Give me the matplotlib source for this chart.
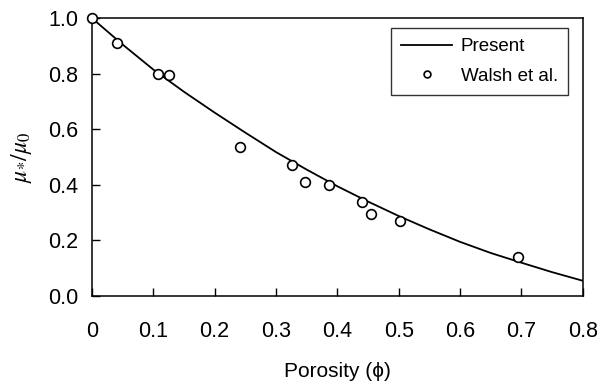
import matplotlib
matplotlib.use("Agg")
import matplotlib.pyplot as plt

plt.rcParams['font.family'] = ['Liberation Sans', 'DejaVu Sans']
plt.rcParams['mathtext.fontset'] = 'stix'

# model curve ("Present")
phi_model = [0.0, 0.05, 0.1, 0.15, 0.2, 0.25, 0.3, 0.35, 0.4, 0.45,
             0.5, 0.55, 0.6, 0.65, 0.7, 0.75, 0.8]
mu_model = [1.0, 0.905, 0.815, 0.735, 0.66, 0.588, 0.518, 0.455, 0.395, 0.34,
            0.288, 0.24, 0.195, 0.155, 0.12, 0.086, 0.055]

# measured data (Walsh et al.)
phi_walsh = [0.0, 0.041, 0.107, 0.125, 0.241, 0.326, 0.347, 0.386,
             0.44, 0.455, 0.502, 0.694]
mu_walsh = [1.0, 0.91, 0.80, 0.795, 0.535, 0.47, 0.41, 0.40,
            0.34, 0.295, 0.27, 0.14]

xticks = [0, 0.1, 0.2, 0.3, 0.4, 0.5, 0.6, 0.7, 0.8]
xlabels = ['0', '0.1', '0.2', '0.3', '0.4', '0.5', '0.6', '0.7', '0.8']
yticks = [0.0, 0.2, 0.4, 0.6, 0.8, 1.0]

fig = plt.figure(figsize=(6.09, 3.86), dpi=100)
ax = fig.add_axes([0.151, 0.233, 0.806, 0.72])

ax.plot(phi_model, mu_model, color='black', lw=1.3, label='Present')
ax.plot(phi_walsh, mu_walsh, ls='none', marker='o', ms=7, mfc='white',
        mec='black', mew=1.2, label='Walsh et al.', clip_on=False, zorder=3)

ax.set_xlim(0, 0.8)
ax.set_ylim(0, 1.0)
ax.set_xticks(xticks)
ax.set_xticklabels(xlabels)
ax.set_yticks(yticks)
ax.set_yticklabels(['%.1f' % v for v in yticks])
ax.tick_params(direction='in', length=6, width=1, labelsize=15.5, colors='black')
ax.tick_params(axis='x', pad=18)
ax.tick_params(axis='y', pad=10)
for s in ax.spines.values():
    s.set_linewidth(1.1)

ax.set_xlabel('Porosity (\u03d5)', fontsize=15, labelpad=14)
ax.set_ylabel(r'$\mu_{*}/\mu_{0}$', fontsize=17, labelpad=10)

leg = ax.legend(loc='upper right', bbox_to_anchor=(0.97, 0.965), fontsize=13.5,
                frameon=True, fancybox=False, edgecolor='black',
                handlelength=2.7, handletextpad=0.45, markerscale=0.7,
                borderpad=0.55, labelspacing=0.65, borderaxespad=0)
leg.get_frame().set_linewidth(1.0)

fig.savefig('out.png', dpi=100)
